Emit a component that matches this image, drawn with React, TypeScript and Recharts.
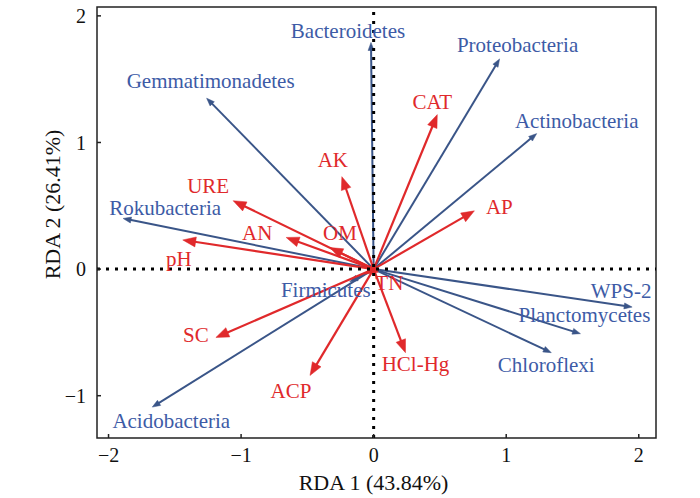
import React from "react";
import { ScatterChart, Scatter, XAxis, YAxis, ReferenceLine, ReferenceArea } from "recharts";

// species (blue) arrow tips
const speciesNames = ["Bacteroidetes", "Proteobacteria", "Actinobacteria", "Gemmatimonadetes", "Rokubacteria", "Firmicutes", "Acidobacteria", "WPS-2", "Planctomycetes", "Chloroflexi"];
const speciesX = [-0.02, 0.95, 1.23, -1.26, -1.89, -0.18, -1.67, 1.95, 1.56, 1.34];
const speciesY = [1.79, 1.66, 1.07, 1.35, 0.4, -0.1, -1.09, -0.3, -0.51, -0.66];

// environmental factors (red) arrow tips
const factorNames = ["CAT", "AP", "AK", "URE", "AN", "OM", "pH", "SC", "ACP", "HCl-Hg", "TN"];
const factorX = [0.48, 0.76, -0.24, -1.06, -0.66, -0.33, -1.44, -1.19, -0.48, 0.24, -0.07];
const factorY = [1.22, 0.46, 0.73, 0.54, 0.25, 0.17, 0.23, -0.54, -0.84, -0.66, -0.04];

const xTicks = [-2, -1, 0, 1, 2];
const yTicks = [-1, 0, 1, 2];

const BLUE_LINE = "#3a5588";
const BLUE_TEXT = "#3d5ba6";
const RED = "#e0292b";
const FONT = "'Liberation Serif', 'Times New Roman', serif";

// label offsets from the arrow tip, in pixels
const labelOffset: Record<string, [number, number]> = {
  Bacteroidetes: [-23, -12],
  Proteobacteria: [18, -14],
  Actinobacteria: [40, -13],
  Gemmatimonadetes: [4, -17],
  Rokubacteria: [42, -11],
  Firmicutes: [-24, 8],
  Acidobacteria: [19, 14],
  "WPS-2": [-11, -16],
  Planctomycetes: [4, -19],
  Chloroflexi: [-5, 12],
  CAT: [-5, -13],
  AP: [25, -4],
  AK: [-9, -17],
  URE: [-25, -15],
  AN: [-29, -5],
  OM: [10, -15],
  pH: [-4, 19],
  SC: [-20, -3],
  ACP: [-19, 15],
  "HCl-Hg": [10, 11],
  TN: [25, 9],
};

const species = speciesNames.map((name, i) => ({ name, x: speciesX[i], y: speciesY[i], kind: "s" }));
const factors = factorNames.map((name, i) => ({ name, x: factorX[i], y: factorY[i], kind: "f" }));

const fmt = (v: number) => (v < 0 ? "\u2212" + Math.abs(v) : String(v));

function arrowShape(color: string, headLen: number, headW: number, lineW: number) {
  return (props: any) => {
    const { x1, y1, x2, y2 } = props;
    const dx = x2 - x1;
    const dy = y2 - y1;
    const len = Math.sqrt(dx * dx + dy * dy) || 1;
    const ux = dx / len;
    const uy = dy / len;
    const bx = x2 - ux * headLen;
    const by = y2 - uy * headLen;
    const px = -uy * headW / 2;
    const py = ux * headW / 2;
    return (
      <g>
        <line x1={x1} y1={y1} x2={bx + ux} y2={by + uy} stroke={color} strokeWidth={lineW} />
        <polygon points={`${x2},${y2} ${bx + px},${by + py} ${bx - px},${by - py}`} fill={color} stroke={color} strokeWidth={0.5} />
      </g>
    );
  };
}

const blueArrow = arrowShape(BLUE_LINE, 8, 6, 2);
const redArrow = arrowShape(RED, 13, 10, 2.2);

function LabelShape(props: any) {
  const { cx, cy, payload } = props;
  const off = labelOffset[payload.name] || [0, 0];
  return (
    <text
      x={cx + off[0]}
      y={cy + off[1]}
      dy="0.34em"
      textAnchor="middle"
      fontFamily={FONT}
      fontSize={21}
      fill={payload.kind === "s" ? BLUE_TEXT : RED}
    >
      {payload.name}
    </text>
  );
}

export default function App() {
  const tickStyle = { fontFamily: FONT, fontSize: 20, fill: "#111" };
  return (
    <div style={{ position: "absolute", left: 0, top: 0, width: 700, height: 498, background: "#fff" }}>
      <ScatterChart width={700} height={498} margin={{ top: 7, right: 44, bottom: 59, left: 96 }}>
        <XAxis
          type="number"
          dataKey="x"
          domain={[-2.087, 2.13]}
          allowDataOverflow
          ticks={xTicks}
          tickFormatter={fmt}
          height={1}
          axisLine={false}
          tickSize={-4}
          tickMargin={14}
          tickLine={{ stroke: "#222", strokeWidth: 1.5 }}
          tick={tickStyle}
        />
        <YAxis
          type="number"
          dataKey="y"
          domain={[-1.334, 2.07]}
          allowDataOverflow
          ticks={yTicks}
          tickFormatter={fmt}
          width={1}
          axisLine={false}
          tickSize={-4}
          tickMargin={15}
          tickLine={{ stroke: "#222", strokeWidth: 1.5 }}
          tick={tickStyle}
        />
        {species.map((d) => (
          <ReferenceLine key={d.name} segment={[{ x: 0, y: 0 }, { x: d.x, y: d.y }]} shape={blueArrow} />
        ))}
        {factors.map((d) => (
          <ReferenceLine key={d.name} segment={[{ x: 0, y: 0 }, { x: d.x, y: d.y }]} shape={redArrow} />
        ))}
        <ReferenceLine x={0} stroke="#000" strokeWidth={3} strokeDasharray="3 6" />
        <ReferenceLine y={0} stroke="#000" strokeWidth={3} strokeDasharray="3 6" />
        <ReferenceArea x1={-2.087} x2={2.13} y1={-1.334} y2={2.07} fill="none" fillOpacity={0} stroke="#222" strokeWidth={1.5} />
        <Scatter data={[...species, ...factors]} shape={LabelShape} isAnimationActive={false} />
      </ScatterChart>
      <svg width={700} height={498} style={{ position: "absolute", left: 0, top: 0, pointerEvents: "none" }}>
        <text x={373.5} y={490} textAnchor="middle" fontFamily={FONT} fontSize={22} fill="#111">
          RDA 1 (43.84%)
        </text>
        <text x={60} y={204.5} textAnchor="middle" fontFamily={FONT} fontSize={22} fill="#111" transform="rotate(-90 60 204.5)">
          RDA 2 (26.41%)
        </text>
      </svg>
    </div>
  );
}
